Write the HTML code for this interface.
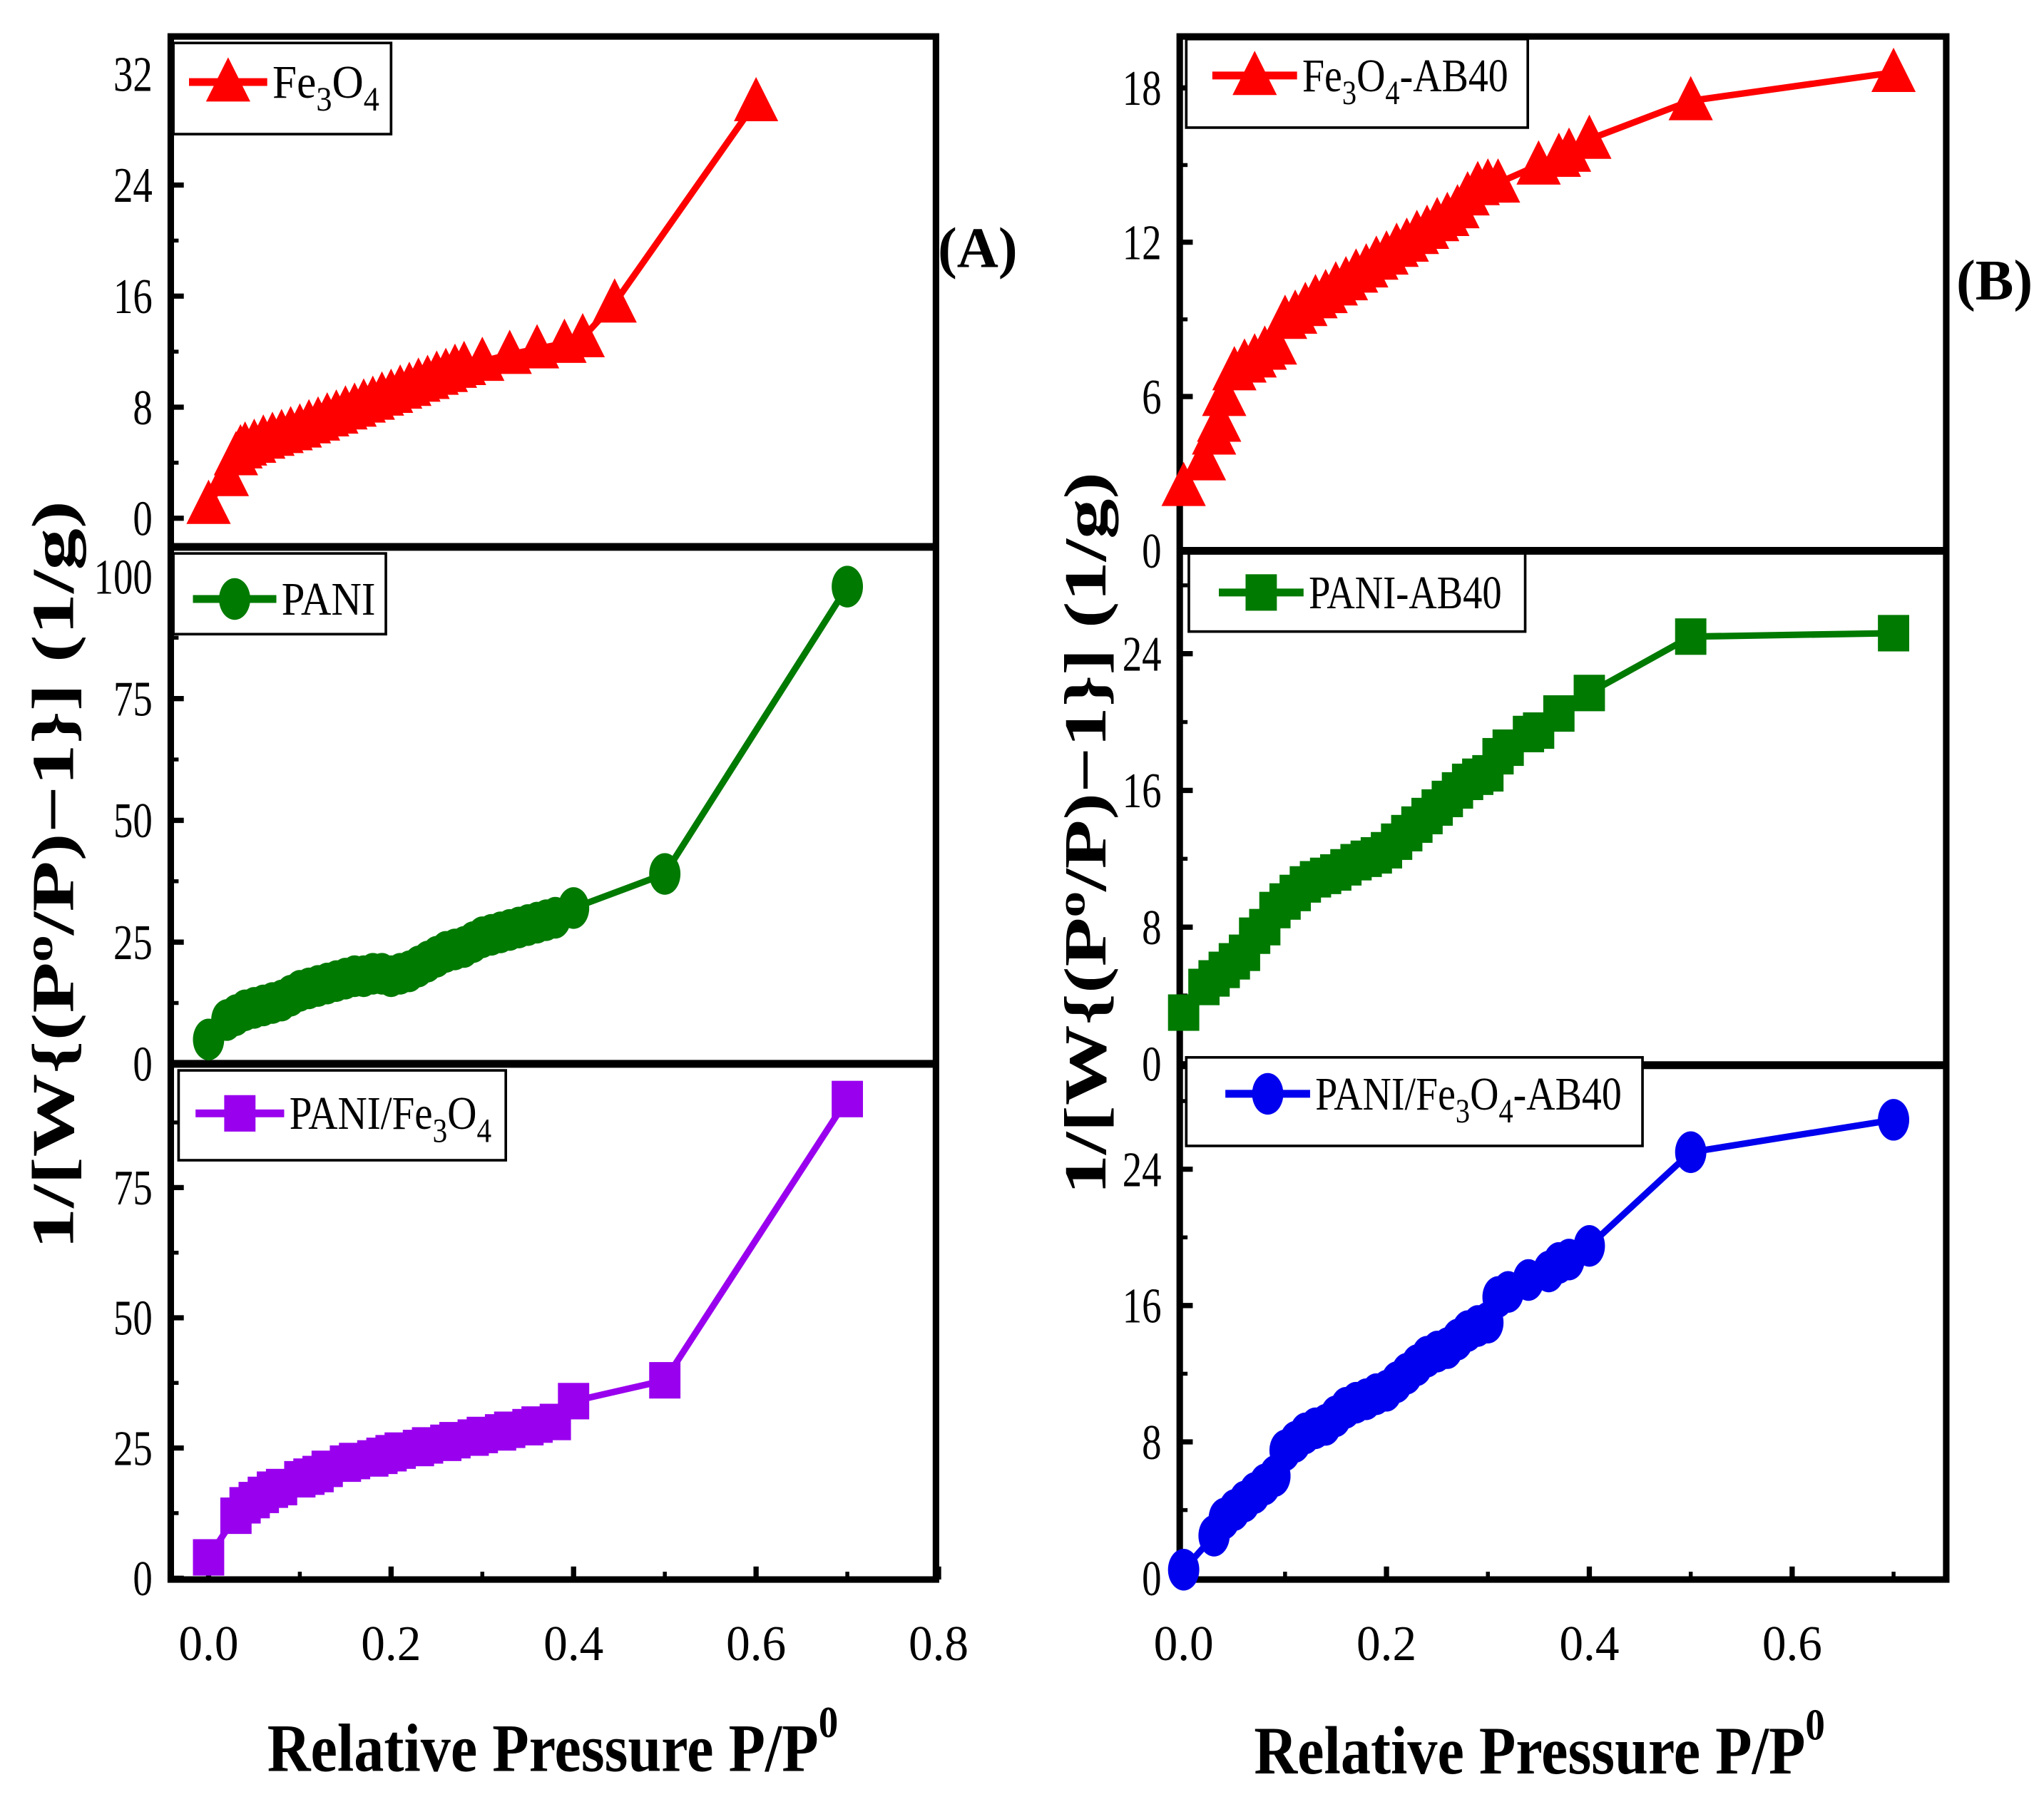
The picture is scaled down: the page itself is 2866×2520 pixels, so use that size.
<!DOCTYPE html>
<html><head><meta charset="utf-8"><style>
html,body{margin:0;padding:0;background:#fff;}
svg{display:block;}
text{font-family:"Liberation Serif",serif;}
</style></head><body>
<svg id="fig" width="2866" height="2520" viewBox="0 0 1568 1380" preserveAspectRatio="none" xmlns="http://www.w3.org/2000/svg"></svg>
<script>
// ---- data ----
const fe3o4X = [0.0,0.02,0.03,0.035,0.04,0.05,0.06,0.07,0.08,0.09,0.1,0.11,0.12,0.13,0.14,0.15,0.16,0.17,0.18,0.19,0.2,0.21,0.22,0.23,0.24,0.25,0.26,0.27,0.28,0.3,0.33,0.36,0.39,0.41,0.445,0.6];
const fe3o4Y = [1,3,4.5,5,5.2,5.4,5.7,5.9,6.1,6.3,6.5,6.8,7,7.3,7.5,7.8,8,8.3,8.5,8.8,9,9.3,9.5,9.8,10,10.3,10.5,10.8,11,11.3,11.8,12.2,12.6,13,15.5,30];
const paniX = [0,0.02,0.03,0.04,0.05,0.06,0.07,0.08,0.09,0.1,0.11,0.12,0.13,0.14,0.15,0.16,0.17,0.18,0.19,0.2,0.21,0.22,0.23,0.24,0.25,0.26,0.27,0.28,0.29,0.3,0.31,0.32,0.33,0.34,0.35,0.36,0.37,0.38,0.4,0.5,0.7];
const paniY = [5,9,10,11,11.5,12,12.5,13,14,15,15.5,16,16.5,17,17.5,18,18,18.5,18.5,18,18.5,19,20,21,22,23,23.5,24,25,26,26.5,27,27.5,28,28.5,29,29.5,30,32,39,98];
const pfX = [0,0.03,0.04,0.05,0.06,0.07,0.08,0.1,0.11,0.12,0.13,0.15,0.16,0.18,0.19,0.2,0.21,0.23,0.24,0.26,0.27,0.29,0.3,0.32,0.33,0.35,0.36,0.38,0.4,0.5,0.7];
const pfY = [4,12,14,15,16,17,17.5,19,19.5,20,21,22,22.5,23,23.5,24,24.5,25,25.5,26,26.5,27,27.5,28,28.5,29,29.5,30,34,38,92];
const feAbX = [0,0.02,0.03,0.035,0.04,0.05,0.06,0.07,0.08,0.09,0.1,0.11,0.12,0.13,0.14,0.15,0.16,0.17,0.18,0.19,0.2,0.21,0.22,0.23,0.24,0.25,0.26,0.27,0.28,0.29,0.3,0.31,0.35,0.37,0.38,0.4,0.5,0.7];
const feAbY = [2.5,3.5,4.5,5,6,7,7.3,7.5,7.8,8,9,9.2,9.5,9.8,10,10.3,10.5,10.8,11,11.3,11.5,11.8,12,12.3,12.5,12.8,13,13.3,13.8,14.2,14.3,14.3,15,15.3,15.5,16,17.5,18.6];
const paAbX = [0,0.02,0.03,0.04,0.05,0.06,0.07,0.08,0.09,0.1,0.11,0.12,0.13,0.14,0.15,0.16,0.17,0.18,0.19,0.2,0.21,0.22,0.23,0.24,0.25,0.26,0.27,0.28,0.29,0.3,0.31,0.32,0.34,0.35,0.37,0.4,0.5,0.7];
const paAbY = [3,4.5,5,5.5,6,6.5,7.5,8,9,9.5,10,10.5,10.8,11,11.2,11.5,11.8,12,12.2,12.5,13,13.5,14,14.5,15,15.5,16,16.5,16.8,17,18,18.5,19.3,19.5,20.5,21.7,25,25.2];
const pfAbX = [0,0.03,0.04,0.05,0.06,0.07,0.08,0.09,0.1,0.11,0.12,0.13,0.14,0.15,0.16,0.17,0.18,0.19,0.2,0.21,0.22,0.23,0.24,0.25,0.26,0.27,0.28,0.29,0.3,0.31,0.32,0.34,0.36,0.37,0.38,0.4,0.5,0.7];
const pfAbY = [0.5,2.5,3.5,4,4.5,5,5.5,6,7.5,8,8.5,8.8,9,9.5,10,10.3,10.5,10.8,11,11.5,12,12.5,13,13.3,13.5,14,14.5,14.8,15,16.5,16.8,17.5,18,18.5,18.7,19.5,25,26.9];
const xTicksA = [0.0,0.2,0.4,0.6,0.8];
const xTicksB = [0.0,0.2,0.4,0.6];
const yTicksA1 = [0,8,16,24,32];
const yTicksA2 = [0,25,50,75,100];
const yTicksA3 = [0,25,50,75];
const yTicksB1 = [0,6,12,18];
const yTicksB2 = [0,8,16,24];
const yTicksB3 = [0,8,16,24];

const NS="http://www.w3.org/2000/svg";
const svg=document.getElementById('fig');
function el(tag,attrs,parent){const e=document.createElementNS(NS,tag);for(const k in attrs)e.setAttribute(k,attrs[k]);(parent||svg).appendChild(e);return e;}

function marker(g,shape,color,cx,cy,s){
  s=s||1;
  let m;
  if(shape==='tri') m=el('polygon',{points:`${cx},${cy-19*s} ${cx-17*s},${cy+15*s} ${cx+17*s},${cy+15*s}`,fill:color},g);
  else if(shape==='circ') m=el('ellipse',{cx:cx,cy:cy,rx:12*s,ry:16*s,fill:color},g);
  else m=el('rect',{x:cx-12*s,y:cy-14*s,width:24*s,height:28*s,fill:color},g);
  return m;
}

function panel(o){
  const g=el('g',{});
  
  
  const xs=v=>o.x0+v*o.xs;
  const ys=v=>o.yb-(v-o.ymin)*o.ys;
  o.yticks.forEach((t,i)=>{
    const y=ys(t);
    const tk=el('line',{x1:o.left,x2:o.left+10,y1:y,y2:y,stroke:'#000','stroke-width':4},g);
    
    
    const ym=ys(t+(o.yticks[1]-o.yticks[0])/2);
    if(ym>o.top+4){
      const mt=el('line',{x1:o.left,x2:o.left+6,y1:ym,y2:ym,stroke:'#000','stroke-width':3},g);
      
      
    }
    const s=String(t);
    const lb=el('text',{x:o.left-14,y:y+13,'text-anchor':'end','font-size':38,textLength:s.length*15,lengthAdjust:'spacingAndGlyphs'},g);
    lb.textContent=s;
    
    
  });
  const pts=o.xd.map((v,i)=>xs(v)+','+ys(o.yd[i])).join(' ');
  const pl=el('polyline',{points:pts,fill:'none',stroke:o.color,'stroke-width':5},g);
  
  
  o.xd.forEach((v,i)=>{
    const m=marker(g,o.shape,o.color,xs(v),ys(o.yd[i]));
    
    
  });
  const L=o.leg;
  const lg=el('g',{},g);
  
  
  el('rect',{x:L.x,y:L.y,width:L.w,height:L.h,fill:'#fff',stroke:'#000','stroke-width':2},lg);
  el('line',{x1:L.lx1,x2:L.lx2,y1:L.ly,y2:L.ly,stroke:o.color,'stroke-width':6},lg);
  marker(lg,o.shape,o.color,(L.lx1+L.lx2)/2,L.ly,1);
  const tx=el('text',{x:L.lx2+4,y:L.ly+12,'font-size':36,textLength:L.tl,lengthAdjust:'spacingAndGlyphs'},lg);
  tx.innerHTML=L.label;
  
  
}

function frame(name,l,r,t,b,divs,xs0,xsc,xt){
  const g=el('g',{});
  
  
  el('rect',{x:l,y:t,width:r-l,height:b-t,fill:'none',stroke:'#000','stroke-width':5},g);
  divs.forEach(d=>el('line',{x1:l,x2:r,y1:d,y2:d,stroke:'#000','stroke-width':6},g));
  xt.forEach((t,i)=>{
    const x=xs0+t*xsc;
    const tk=el('line',{x1:x,x2:x,y1:b,y2:b-10,stroke:'#000','stroke-width':4},g);
    
    
    const mx=x+0.1*xsc;
    if(mx<r-4){
      const mt=el('line',{x1:mx,x2:mx,y1:b,y2:b-6,stroke:'#000','stroke-width':3},g);
      
      
    }
    const lb=el('text',{x:x,y:b+62,'text-anchor':'middle','font-size':38,textLength:46,lengthAdjust:'spacingAndGlyphs'},g);
    lb.textContent=t.toFixed(1);
    
    
  });
}

frame('panel-a-frame',131,718,28,1213,[420,817],160,700,xTicksA);
panel({name:'plot-fe3o4',left:131,top:28,x0:160,xs:700,yb:398,ymin:0,ys:85.3/8,yticks:yTicksA1,xd:fe3o4X,yd:fe3o4Y,color:'#ff0000',shape:'tri',
  leg:{x:133,y:33,w:167,h:70,lx1:145,lx2:205,ly:63,tl:82,label:'Fe<tspan font-size="26" dy="10">3</tspan><tspan dy="-10">O</tspan><tspan font-size="26" dy="10">4</tspan>'}});
panel({name:'plot-pani',left:131,top:420,x0:160,xs:700,yb:817,ymin:0,ys:93.5/25,yticks:yTicksA2,xd:paniX,yd:paniY,color:'#007a00',shape:'circ',
  leg:{x:133,y:425,w:163,h:62,lx1:148,lx2:212,ly:460,tl:72,label:'PANI'}});
panel({name:'plot-pani-fe3o4',left:131,top:817,x0:160,xs:700,yb:1212,ymin:0,ys:4,yticks:yTicksA3,xd:pfX,yd:pfY,color:'#9900ee',shape:'sq',
  leg:{x:137,y:822,w:251,h:69,lx1:150,lx2:218,ly:855,tl:155,label:'PANI/Fe<tspan font-size="26" dy="10">3</tspan><tspan dy="-10">O</tspan><tspan font-size="26" dy="10">4</tspan>'}});

frame('panel-b-frame',905,1493,28,1213,[423,818],908,778,xTicksB);
panel({name:'plot-fe3o4-ab40',left:905,top:28,x0:908,xs:778,yb:423,ymin:0,ys:118.5/6,yticks:yTicksB1,xd:feAbX,yd:feAbY,color:'#ff0000',shape:'tri',
  leg:{x:910,y:30,w:262,h:68,lx1:930,lx2:995,ly:58,tl:158,label:'Fe<tspan font-size="26" dy="10">3</tspan><tspan dy="-10">O</tspan><tspan font-size="26" dy="10">4</tspan><tspan dy="-10">-AB40</tspan>'}});
panel({name:'plot-pani-ab40',left:905,top:423,x0:908,xs:778,yb:817,ymin:0,ys:105/8,yticks:yTicksB2,xd:paAbX,yd:paAbY,color:'#007a00',shape:'sq',
  leg:{x:912,y:425,w:258,h:60,lx1:935,lx2:1000,ly:455,tl:148,label:'PANI-AB40'}});
panel({name:'plot-pani-fe3o4-ab40',left:905,top:818,x0:908,xs:778,yb:1212,ymin:0,ys:104.7/8,yticks:yTicksB3,xd:pfAbX,yd:pfAbY,color:'#0000ee',shape:'circ',
  leg:{x:910,y:812,w:350,h:68,lx1:940,lx2:1005,ly:840,tl:235,label:'PANI/Fe<tspan font-size="26" dy="10">3</tspan><tspan dy="-10">O</tspan><tspan font-size="26" dy="10">4</tspan><tspan dy="-10">-AB40</tspan>'}});

function txt(name,attrs,html){const t=el('text',attrs);t.innerHTML=html;return t;}
txt('panel-a-label',{x:750,y:205,'text-anchor':'middle','font-size':44,'font-weight':'bold'},'(A)');
txt('panel-b-label',{x:1530,y:230,'text-anchor':'middle','font-size':44,'font-weight':'bold'},'(B)');
const yl='1/[W{(P<tspan font-size="30" dy="-16">o</tspan><tspan dy="16">/P)−1}] (1/g)</tspan>';
txt('y-axis-title-a',{x:0,y:0,'text-anchor':'middle','font-size':46,'font-weight':'bold',transform:'translate(56,672) rotate(-90)',textLength:575,lengthAdjust:'spacingAndGlyphs'},yl);
txt('y-axis-title-b',{x:0,y:0,'text-anchor':'middle','font-size':46,'font-weight':'bold',transform:'translate(848,640) rotate(-90)',textLength:555,lengthAdjust:'spacingAndGlyphs'},yl);
const xl='Relative Pressure P/P<tspan font-size="34" dy="-26">0</tspan>';
txt('x-axis-title-a',{x:205,y:1360,'font-size':52,'font-weight':'bold',textLength:438,lengthAdjust:'spacingAndGlyphs'},xl);
txt('x-axis-title-b',{x:962,y:1362,'font-size':52,'font-weight':'bold',textLength:438,lengthAdjust:'spacingAndGlyphs'},xl);
</script>
</body></html>
